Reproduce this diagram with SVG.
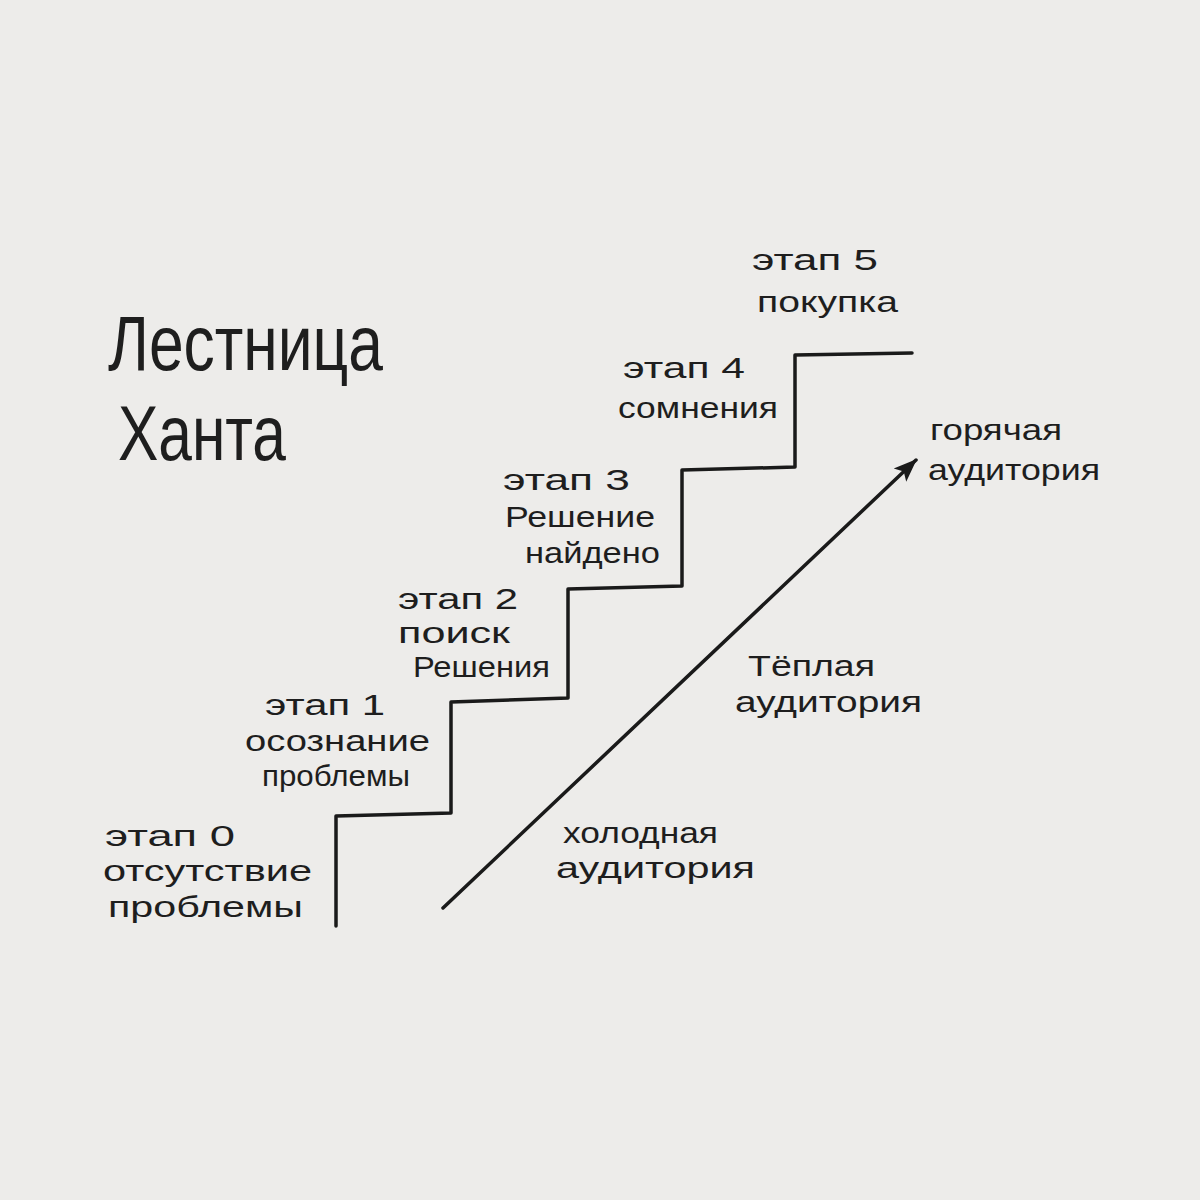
<svg xmlns="http://www.w3.org/2000/svg" width="1200" height="1200" viewBox="0 0 1200 1200">
<defs>
<style>
.t{font-family:"Liberation Sans","DejaVu Sans",sans-serif;font-weight:400;font-size:29px;fill:#1e1e1e}
.title{font-family:"Liberation Sans","DejaVu Sans",sans-serif;font-weight:400;font-size:78px;fill:#1e1e1e}
.ln{fill:none;stroke:#1a1a1a;stroke-width:3.5;stroke-linecap:round;stroke-linejoin:round}
</style>
<marker id="ah" viewBox="0 0 20 20" refX="17" refY="10" markerWidth="26" markerHeight="26" markerUnits="userSpaceOnUse" orient="auto">
<path d="M0,3 L18,10 L0,17 L4,10 Z" fill="#1a1a1a"/>
</marker>
</defs>
<rect width="1200" height="1200" fill="#edecea"/>
<g id="title">
<text class="title" x="108" y="370" textLength="275" lengthAdjust="spacingAndGlyphs">Лестница</text>
<text class="title" x="118" y="460" textLength="168" lengthAdjust="spacingAndGlyphs">Ханта</text>
</g>
<g id="connectors">
<path class="ln" d="M336,926 L336,816 L451,813 L451,702 L568,698 L568,589 L682,586 L682,470 L795,467 L795,355 L912,353"/>
<line x1="443" y1="908" x2="916" y2="460" class="ln" stroke-width="3" marker-end="url(#ah)"/>
</g>
<g id="stage0">
<text class="t" x="105" y="846" textLength="130" lengthAdjust="spacingAndGlyphs">этап 0</text>
<text class="t" x="103" y="881" textLength="209" lengthAdjust="spacingAndGlyphs">отсутствие</text>
<text class="t" x="108" y="917" textLength="195" lengthAdjust="spacingAndGlyphs">проблемы</text>
</g>
<g id="stage1">
<text class="t" x="265" y="715" textLength="120" lengthAdjust="spacingAndGlyphs">этап 1</text>
<text class="t" x="245" y="751" textLength="185" lengthAdjust="spacingAndGlyphs">осознание</text>
<text class="t" x="262" y="786" textLength="148" lengthAdjust="spacingAndGlyphs">проблемы</text>
</g>
<g id="stage2">
<text class="t" x="398" y="609" textLength="120" lengthAdjust="spacingAndGlyphs">этап 2</text>
<text class="t" x="398" y="643" textLength="112" lengthAdjust="spacingAndGlyphs">поиск</text>
<text class="t" x="413" y="677" textLength="137" lengthAdjust="spacingAndGlyphs">Решения</text>
</g>
<g id="stage3">
<text class="t" x="503" y="490" textLength="127" lengthAdjust="spacingAndGlyphs">этап 3</text>
<text class="t" x="505" y="527" textLength="150" lengthAdjust="spacingAndGlyphs">Решение</text>
<text class="t" x="525" y="563" textLength="135" lengthAdjust="spacingAndGlyphs">найдено</text>
</g>
<g id="stage4">
<text class="t" x="623" y="378" textLength="122" lengthAdjust="spacingAndGlyphs">этап 4</text>
<text class="t" x="618" y="418" textLength="160" lengthAdjust="spacingAndGlyphs">сомнения</text>
</g>
<g id="stage5">
<text class="t" x="752" y="270" textLength="126" lengthAdjust="spacingAndGlyphs">этап 5</text>
<text class="t" x="757" y="312" textLength="141" lengthAdjust="spacingAndGlyphs">покупка</text>
</g>
<g id="hot">
<text class="t" x="930" y="440" textLength="132" lengthAdjust="spacingAndGlyphs">горячая</text>
<text class="t" x="928" y="480" textLength="172" lengthAdjust="spacingAndGlyphs">аудитория</text>
</g>
<g id="warm">
<text class="t" x="748" y="676" textLength="127" lengthAdjust="spacingAndGlyphs">Тёплая</text>
<text class="t" x="735" y="712" textLength="187" lengthAdjust="spacingAndGlyphs">аудитория</text>
</g>
<g id="cold">
<text class="t" x="563" y="843" textLength="155" lengthAdjust="spacingAndGlyphs">холодная</text>
<text class="t" x="556" y="878" textLength="199" lengthAdjust="spacingAndGlyphs">аудитория</text>
</g>
</svg>
